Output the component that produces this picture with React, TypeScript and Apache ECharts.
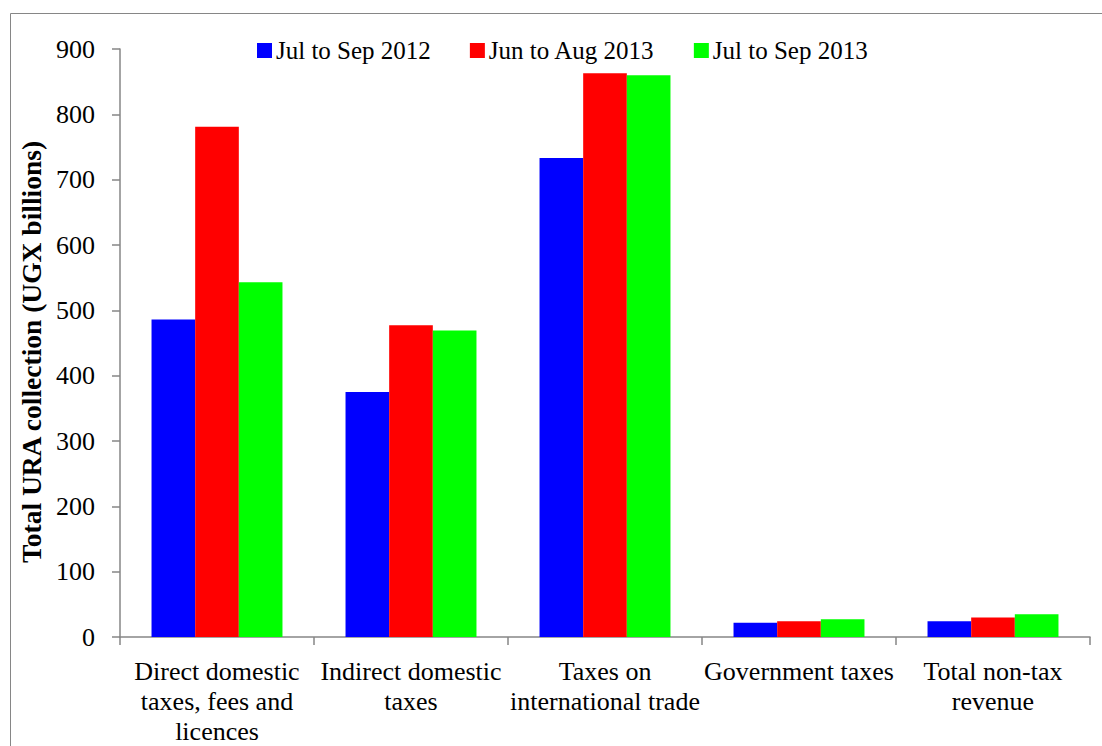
import React, { useEffect, useRef } from "react";
import * as echarts from "echarts";

const categories = [
  "Direct domestic\ntaxes, fees and\nlicences",
  "Indirect domestic\ntaxes",
  "Taxes on\ninternational trade",
  "Government taxes",
  "Total non-tax\nrevenue",
];
const seriesNames = ["Jul to Sep 2012", "Jun to Aug 2013", "Jul to Sep 2013"];
const julSep2012 = [486, 375, 733, 22, 24];
const junAug2013 = [781, 477, 863, 24, 30];
const julSep2013 = [543, 469, 860, 27, 35];
const colors = ["#0000ff", "#ff0000", "#00ff00"];

const FONT = "'Liberation Serif', 'Times New Roman', serif";

export default function App() {
  const ref = useRef<HTMLDivElement>(null);
  useEffect(() => {
    if (!ref.current) return;
    const chart = echarts.init(ref.current, undefined, { renderer: "svg" });
    const data = [julSep2012, junAug2013, julSep2013];
    chart.setOption({
      animation: false,
      textStyle: { fontFamily: FONT, color: "#000" },
      graphic: [
        {
          type: "rect",
          shape: { x: 10.5, y: 13.5, width: 1200, height: 900 },
          style: { fill: "none", stroke: "#868686", lineWidth: 1 },
          silent: true,
        },
      ],
      legend: {
        left: 252,
        top: 33,
        itemWidth: 15,
        itemHeight: 15,
        itemGap: 39,
        icon: "rect",
        textStyle: { fontFamily: FONT, fontSize: 25, color: "#000", padding: [0, 0, 0, -1] },
        data: seriesNames,
      },
      grid: { left: 120, right: 12, top: 49, bottom: 107.5 },
      xAxis: {
        type: "category",
        data: categories,
        axisLine: { lineStyle: { color: "#868686", width: 1.5 } },
        axisTick: { show: true, length: 8, lineStyle: { color: "#868686", width: 1.5 } },
        axisLabel: {
          fontFamily: FONT,
          fontSize: 26,
          color: "#000",
          lineHeight: 30,
          margin: 19,
          interval: 0,
        },
      },
      yAxis: {
        type: "value",
        min: 0,
        max: 900,
        interval: 100,
        name: "Total URA collection (UGX billions)",
        nameLocation: "middle",
        nameGap: 67,
        nameTextStyle: {
          fontFamily: FONT,
          fontSize: 27.5,
          fontWeight: "bold",
          color: "#000",
          padding: [0, 18, 0, 0],
        },
        axisLine: { show: true, lineStyle: { color: "#868686", width: 1.5 } },
        axisTick: { show: true, length: 8, lineStyle: { color: "#868686", width: 1.5 } },
        splitLine: { show: false },
        axisLabel: { fontFamily: FONT, fontSize: 26, color: "#000", margin: 25 },
      },
      series: seriesNames.map((name, i) => ({
        name,
        type: "bar",
        data: data[i],
        barGap: "0%",
        barCategoryGap: "32.5%",
        itemStyle: { color: colors[i] },
      })),
    });
    return () => chart.dispose();
  }, []);
  return <div ref={ref} style={{ width: 1102, height: 746, position: "absolute", left: 0, top: 0 }} />;
}
